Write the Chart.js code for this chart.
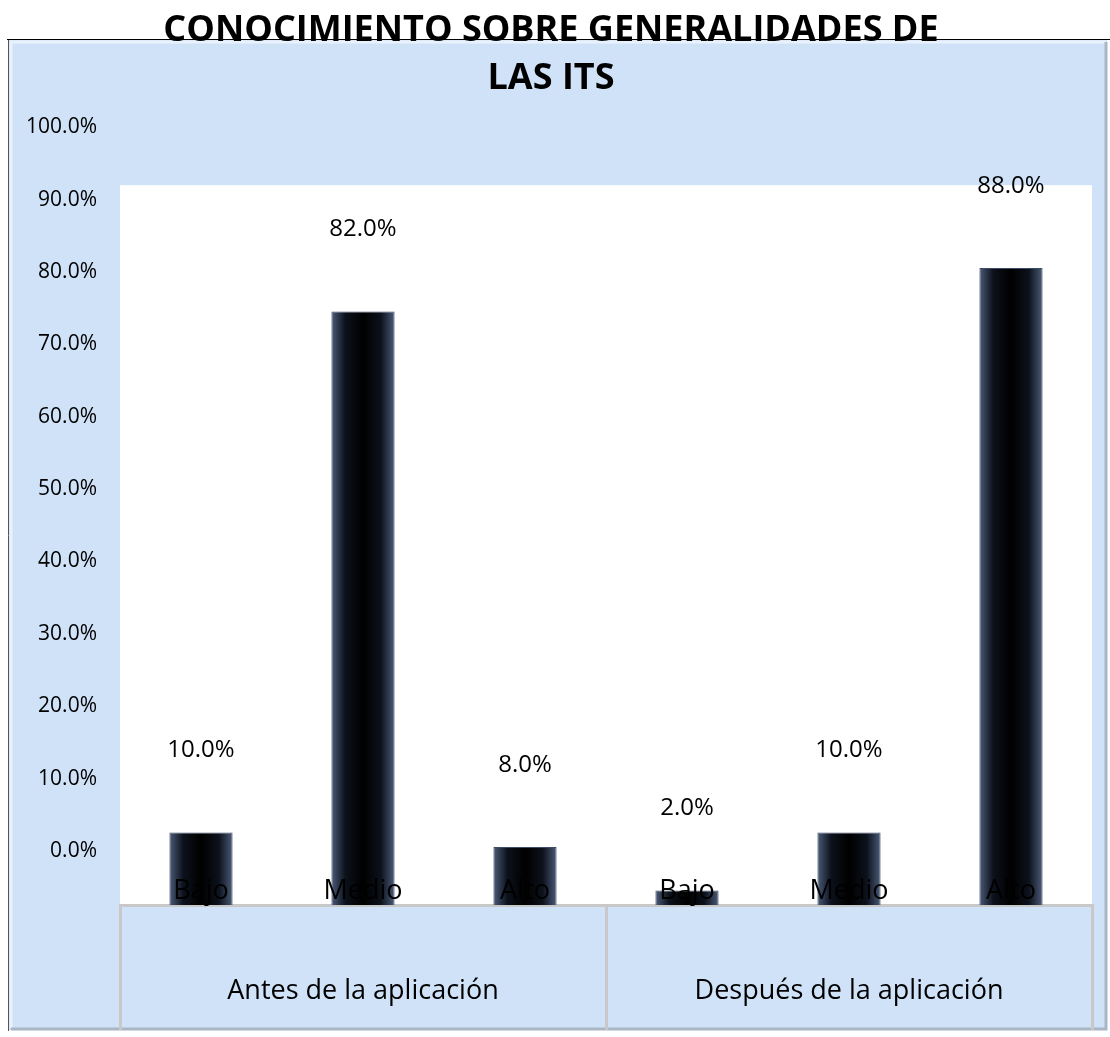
<!DOCTYPE html>
<html>
<head>
<meta charset="utf-8">
<script src="https://cdn.jsdelivr.net/npm/chart.js@4.4.1/dist/chart.umd.min.js"></script>
<style>
  body { margin: 0; background: #fff; }
</style>
</head>
<body>
<canvas id="chart" width="1110" height="1037"></canvas>
<script>
// chart data
const categories = ['Bajo', 'Medio', 'Alto', 'Bajo', 'Medio', 'Alto'];
const groups = ['Antes de la aplicación', 'Después de la aplicación'];
const values = [10, 82, 8, 2, 10, 88];
const titleLines = ['CONOCIMIENTO SOBRE GENERALIDADES DE', 'LAS ITS'];

const FONT = "'Open Sans', 'Noto Sans', sans-serif";
const BG_BLUE = '#d0e2f7';

// background, frame and white plot area
const framePlugin = {
  id: 'frame',
  beforeDraw(chart) {
    const c = chart.ctx;
    const a = chart.chartArea;
    c.save();
    c.fillStyle = '#fff';
    c.fillRect(0, 0, chart.width, chart.height);
    c.fillStyle = BG_BLUE;
    c.fillRect(9, 40, 1098, 990);
    // bevel
    c.strokeStyle = '#e8f1fc';
    c.lineWidth = 3;
    c.beginPath();
    c.moveTo(11, 1028); c.lineTo(11, 42); c.lineTo(1106, 42);
    c.stroke();
    c.strokeStyle = '#a9b6c6';
    c.beginPath();
    c.moveTo(11, 1029); c.lineTo(1106, 1029); c.lineTo(1106, 42);
    c.stroke();
    c.lineWidth = 1;
    c.strokeStyle = '#000';
    c.beginPath();
    c.moveTo(7, 39.5); c.lineTo(1110, 39.5);
    c.stroke();
    c.strokeStyle = '#555';
    c.beginPath();
    c.moveTo(8.5, 40); c.lineTo(8.5, 1031);
    c.stroke();
    c.fillStyle = '#fff';
    c.fillRect(a.left, a.top + 4, a.right - a.left, a.bottom - a.top - 4);
    c.restore();
  }
};

// value labels above the bars
const valueLabels = {
  id: 'valueLabels',
  afterDatasetsDraw(chart) {
    const c = chart.ctx;
    const meta = chart.getDatasetMeta(0);
    c.save();
    c.font = '24px ' + FONT;
    c.fillStyle = '#000';
    c.textAlign = 'center';
    c.textBaseline = 'middle';
    meta.data.forEach((bar, i) => {
      c.fillText(values[i].toFixed(1) + '%', bar.x, bar.y - 82);
    });
    c.restore();
  }
};

function barFill(ctx) {
  const chart = ctx.chart;
  const xs = chart.scales.x;
  if (!xs || !chart.chartArea) return '#000';
  const cx = xs.getPixelForValue(ctx.dataIndex);
  const half = (chart.chartArea.right - chart.chartArea.left) / categories.length * 0.39 / 2;
  const g = chart.ctx.createLinearGradient(cx - half, 0, cx + half, 0);
  g.addColorStop(0, '#4b5b78');
  g.addColorStop(0.22, '#0c111b');
  g.addColorStop(0.5, '#000');
  g.addColorStop(0.78, '#0c111b');
  g.addColorStop(1, '#4b5b78');
  return g;
}

new Chart(document.getElementById('chart'), {
  type: 'bar',
  data: {
    labels: categories,
    datasets: [{
      data: values,
      backgroundColor: barFill,
      borderColor: '#3d4c66',
      borderWidth: 1,
      barPercentage: 0.39,
      categoryPercentage: 1
    }]
  },
  options: {
    responsive: false,
    animation: false,
    devicePixelRatio: 1,
    layout: { padding: { left: 10, right: 18, top: 0, bottom: 7 } },
    plugins: {
      legend: { display: false },
      tooltip: { enabled: false },
      title: {
        display: true,
        text: titleLines,
        color: '#000',
        font: { family: FONT, size: 36, weight: 'bold', lineHeight: 1.35 },
        padding: { top: 6, bottom: 78 }
      }
    },
    scales: {
      y: {
        min: 0,
        max: 100,
        grid: { display: false, drawTicks: false },
        border: { display: false },
        ticks: {
          stepSize: 10,
          padding: 23,
          labelOffset: -54,
          color: '#000',
          font: { family: FONT, size: 21 },
          callback: v => v.toFixed(1) + '%'
        },
        afterFit(scale) { scale.width = 110; }
      },
      x: {
        position: 'bottom',
        weight: 0,
        grid: { display: false, drawTicks: false },
        border: { display: false },
        ticks: {
          z: 1,
          mirror: true,
          padding: -3,
          autoSkip: false,
          color: '#000',
          font: { family: FONT, size: 27 },
          maxRotation: 0
        },
        afterFit(scale) { scale.height = 0; }
      },
      x2: {
        type: 'category',
        position: 'bottom',
        weight: 1,
        labels: groups,
        offset: true,
        grid: {
          display: true,
          offset: true,
          drawOnChartArea: false,
          drawTicks: true,
          tickLength: 125,
          color: '#c8c8c8',
          lineWidth: 3
        },
        border: { display: true, color: '#c8c8c8', width: 3 },
        ticks: {
          padding: -55,
          color: '#000',
          font: { family: FONT, size: 27 },
          maxRotation: 0
        },
        afterFit(scale) { scale.height = 125; }
      }
    }
  },
  plugins: [framePlugin, valueLabels]
});
</script>
</body>
</html>
